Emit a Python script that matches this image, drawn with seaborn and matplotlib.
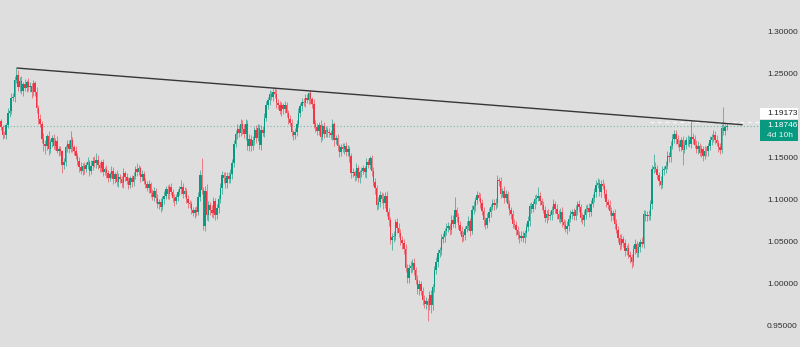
import matplotlib
matplotlib.use("Agg")
import matplotlib.pyplot as plt
from matplotlib.patches import Rectangle
import numpy as np
import seaborn as sns

# ---------------- data (weekly candles) ----------------
first_open = 1.193
closes = [
    1.186,1.177,1.176,1.188,1.203,1.205,1.220,1.222,1.242,1.248,
    1.234,1.241,1.229,1.237,1.232,1.240,1.233,1.235,1.228,1.238,
    1.227,1.208,1.196,1.190,1.172,1.166,1.163,1.175,1.160,1.168,
    1.173,1.164,1.169,1.158,1.160,1.157,1.141,1.144,1.162,1.166,
    1.160,1.170,1.162,1.158,1.152,1.146,1.139,1.134,1.140,1.136,
    1.141,1.144,1.134,1.140,1.146,1.143,1.147,1.141,1.137,1.144,
    1.133,1.136,1.131,1.126,1.130,1.134,1.124,1.130,1.121,1.127,
    1.124,1.119,1.131,1.127,1.122,1.117,1.125,1.121,1.128,1.136,
    1.133,1.137,1.127,1.130,1.122,1.118,1.114,1.118,1.108,1.103,
    1.110,1.102,1.094,1.097,1.091,1.100,1.104,1.112,1.106,1.115,
    1.109,1.102,1.098,1.103,1.109,1.112,1.115,1.107,1.110,1.101,
    1.096,1.094,1.088,1.084,1.087,1.085,1.103,1.129,1.111,1.069,
    1.110,1.081,1.093,1.087,1.084,1.098,1.082,1.090,1.101,1.113,
    1.129,1.126,1.119,1.128,1.124,1.130,1.143,1.166,1.178,1.184,
    1.179,1.190,1.184,1.178,1.190,1.163,1.172,1.163,1.170,1.182,
    1.173,1.185,1.165,1.183,1.179,1.197,1.212,1.218,1.225,1.222,
    1.228,1.225,1.215,1.212,1.205,1.212,1.207,1.212,1.203,1.195,
    1.191,1.180,1.176,1.180,1.190,1.203,1.211,1.216,1.215,1.221,
    1.218,1.226,1.219,1.213,1.190,1.186,1.181,1.188,1.174,1.187,
    1.178,1.183,1.180,1.179,1.176,1.189,1.170,1.173,1.163,1.156,
    1.162,1.160,1.164,1.156,1.160,1.151,1.131,1.132,1.128,1.137,
    1.125,1.132,1.134,1.137,1.132,1.144,1.141,1.149,1.134,1.121,
    1.113,1.093,1.097,1.105,1.101,1.096,1.104,1.085,1.075,1.052,
    1.055,1.057,1.073,1.066,1.060,1.052,1.048,1.041,1.019,1.007,
    1.018,1.021,1.025,1.016,1.004,0.994,0.999,0.991,0.980,0.976,
    0.979,0.975,0.986,0.974,0.996,1.016,1.026,1.036,1.040,1.053,
    1.055,1.062,1.066,1.068,1.064,1.076,1.071,1.087,1.079,1.070,
    1.063,1.055,1.058,1.065,1.069,1.074,1.063,1.088,1.092,1.099,
    1.105,1.102,1.096,1.086,1.075,1.070,1.078,1.085,1.091,1.096,
    1.093,1.096,1.123,1.122,1.107,1.110,1.102,1.106,1.094,1.087,
    1.083,1.071,1.070,1.064,1.058,1.054,1.057,1.054,1.060,1.067,
    1.074,1.092,1.089,1.094,1.100,1.102,1.104,1.098,1.093,1.088,
    1.078,1.083,1.080,1.082,1.087,1.094,1.089,1.083,1.077,1.085,
    1.073,1.070,1.065,1.068,1.077,1.083,1.085,1.080,1.087,1.094,
    1.091,1.078,1.075,1.082,1.089,1.090,1.085,1.095,1.102,1.109,
    1.117,1.120,1.109,1.118,1.116,1.107,1.097,1.093,1.086,1.080,
    1.084,1.071,1.064,1.054,1.046,1.053,1.048,1.039,1.042,1.034,
    1.031,1.026,1.041,1.047,1.036,1.043,1.049,1.047,1.083,1.080,
    1.081,1.080,1.095,1.136,1.139,1.136,1.129,1.122,1.117,1.135,
    1.136,1.140,1.152,1.150,1.164,1.172,1.178,1.172,1.166,1.162,
    1.170,1.159,1.165,1.170,1.171,1.166,1.174,1.172,1.165,1.160,
    1.163,1.155,1.160,1.152,1.158,1.157,1.163,1.170,1.174,1.177,
    1.171,1.167,1.162,1.159,1.185,1.181,1.186,1.18746,
]
# upper / lower wick lengths, in thousandths
upper_wick = [
    3,2,4,3,5,2,6,4,5,8,6,4,5,3,6,2,4,5,3,4,
    3,6,4,5,3,7,4,3,6,4,3,5,4,6,3,4,2,5,3,4,
    5,11,4,3,5,3,4,6,3,5,4,6,3,7,4,5,8,6,4,3,
    4,3,5,4,3,6,4,3,5,4,3,4,6,3,4,5,3,4,5,4,
    7,4,3,5,4,3,4,5,3,4,5,3,4,3,5,4,6,4,5,3,
    4,3,5,4,3,4,8,4,5,3,4,3,4,3,4,5,6,6,20,4,
    6,8,5,4,6,5,4,5,4,6,5,4,6,4,5,6,5,4,5,6,
    4,5,4,6,5,4,6,4,5,4,6,5,4,5,4,6,5,4,5,4,
    5,4,6,4,5,4,3,5,4,3,5,4,3,5,4,5,3,4,5,4,
    4,2,4,3,6,4,5,4,6,3,5,4,3,5,4,6,3,4,5,3,
    4,5,3,4,5,3,4,5,3,6,4,3,5,4,3,5,4,2,4,5,
    5,4,6,5,4,7,5,6,5,4,5,6,4,5,6,5,4,5,6,4,
    5,6,4,5,4,6,5,4,5,6,5,4,5,6,4,5,6,5,4,6,
    5,4,6,5,4,6,5,16,4,5,4,6,5,4,5,6,4,5,6,4,
    5,4,6,4,5,4,6,5,4,5,4,6,6,4,5,4,6,5,4,5,
    4,5,6,4,5,4,5,6,4,5,6,4,5,4,5,4,11,5,4,5,
    4,5,6,4,5,6,4,5,4,5,6,4,5,6,4,5,4,5,6,4,
    5,4,6,5,4,5,6,4,5,4,6,5,4,5,6,4,5,4,6,5,
    4,5,6,4,5,6,4,5,4,6,5,4,5,6,4,5,4,6,5,4,
    5,6,4,5,15,6,5,4,6,5,4,6,5,4,5,6,4,5,4,5,
    4,5,6,4,5,4,19,5,4,5,6,4,5,4,5,6,4,5,4,6,
    4,5,4,5,4,25,3,3,
]
lower_wick = [
    4,5,3,4,3,5,4,3,6,4,5,7,4,6,3,5,4,6,7,5,
    4,5,6,4,5,8,9,4,7,5,6,4,5,3,6,4,10,5,4,6,
    5,4,6,5,4,5,6,4,5,6,4,5,6,4,5,4,6,5,4,5,
    5,4,6,5,4,5,6,4,5,6,5,4,6,5,4,5,4,6,5,4,
    5,4,6,5,4,5,4,6,5,4,5,6,4,5,6,4,5,4,6,5,
    4,5,6,4,5,4,6,5,4,5,6,4,5,4,6,5,4,5,5,5,
    6,5,7,6,5,6,7,5,6,5,6,7,5,6,5,4,6,5,4,6,
    5,4,6,5,7,4,5,6,4,5,6,4,5,6,4,5,4,5,6,4,
    5,4,6,5,4,6,5,4,5,6,4,5,6,4,5,4,5,6,4,5,
    4,5,6,4,5,6,4,5,6,4,5,4,6,5,4,5,6,4,5,6,
    5,4,6,5,4,6,5,4,6,5,4,6,5,4,5,6,4,5,6,5,
    6,5,4,6,5,7,6,5,6,5,12,6,5,6,5,6,7,6,5,6,
    6,5,7,6,5,6,7,5,6,5,6,20,6,9,5,6,5,6,5,6,
    5,6,4,5,6,5,4,5,6,5,4,6,5,6,4,5,6,4,5,6,
    5,4,6,5,6,5,4,5,6,4,5,4,5,6,5,4,6,5,4,5,
    6,5,4,6,5,6,4,5,6,5,4,6,5,4,5,6,4,5,6,4,
    5,6,4,5,6,4,5,6,4,5,6,5,4,6,5,4,6,5,4,5,
    6,5,4,6,5,4,6,5,4,5,6,4,5,6,4,5,6,4,5,6,
    5,6,4,5,6,5,4,6,5,4,6,8,5,6,4,5,6,4,5,6,
    6,5,4,6,5,4,5,6,5,4,6,5,4,5,6,4,5,6,4,5,
    5,18,4,5,6,4,5,6,4,5,6,4,5,6,4,5,6,4,5,6,
    5,4,6,5,4,5,4,3,
]
trend_x = [9.4, 436.0]
trend_y = [1.2560, 1.1887]
last_price = 1.18746
high_marker = 1.19173
high_marker_from = 382
price_ticks = [0.95, 1.00, 1.05, 1.10, 1.15, 1.25, 1.30]
countdown = "4d 10h"

# ---------------- style ----------------
BG = "#dedede"
UP = "#089981"
DOWN = "#f23645"
sns.set_theme(style="white")
plt.rcParams["font.family"] = ["Liberation Sans", "DejaVu Sans"]
FS = 6.0

closes = np.array(closes)
opens = np.concatenate([[first_open], closes[:-1]])
n = len(closes)
idx = np.arange(n)
body_top = np.maximum(opens, closes)
body_bot = np.minimum(opens, closes)
highs = body_top + np.array(upper_wick[:n]) / 1000.0
lows = body_bot - np.array(lower_wick[:n]) / 1000.0
up = closes >= opens
colors = np.where(up, UP, DOWN)
heights = np.maximum(body_top - body_bot, 0.0008)

fig = plt.figure(figsize=(8, 3.47), dpi=100, facecolor=BG)
ax = fig.add_axes([0, 0, 760 / 800, 1])
ax.set_facecolor(BG)

ax.vlines(idx, lows, highs, colors=colors, linewidth=0.7, alpha=0.6, zorder=2)
ax.bar(idx, heights, bottom=body_bot, width=0.85, color=colors, linewidth=0, zorder=3)

# trend line
sns.lineplot(x=trend_x, y=trend_y, ax=ax, color="#363636", linewidth=1.0, zorder=4)

# current price dotted line
ax.axhline(last_price, color="#6fb8a8", linewidth=0.8, linestyle=(0, (1, 2)), zorder=1)
# high marker dashed line
ax.hlines(high_marker, high_marker_from, 447, colors="#f6f6f6", linewidth=0.9,
          linestyles=(0, (3, 3)), zorder=1)

ax.set_xlim(-0.59, 446.5)
ax.set_ylim(0.92470, 1.33682)
for s in ax.spines.values():
    s.set_visible(False)
ax.set_xticks([])
ax.yaxis.tick_right()
ax.set_yticks(price_ticks)
ax.set_yticklabels([f"{t:.5f}" for t in price_ticks])
ax.tick_params(axis="y", length=0, pad=5, labelsize=FS, labelcolor="#2e2e2e")
ax.grid(False)

# price labels on scale
W, H = 800.0, 347.0
fig.patches.append(Rectangle((760 / W, 1 - 119 / H), 38 / W, 11 / H,
                             transform=fig.transFigure, facecolor="white",
                             edgecolor="none", zorder=5))
fig.text(767 / W, 1 - 113.5 / H, f"{high_marker:.5f}", fontsize=FS,
         color="#222222", va="center", ha="left", zorder=6)
fig.patches.append(Rectangle((760 / W, 1 - 141 / H), 38 / W, 21 / H,
                             transform=fig.transFigure, facecolor=UP,
                             edgecolor="none", zorder=5))
fig.text(767 / W, 1 - 125.5 / H, f"{last_price:.5f}", fontsize=FS,
         color="white", va="center", ha="left", zorder=6)
fig.text(767 / W, 1 - 135.5 / H, countdown, fontsize=FS,
         color="#e6f4f1", va="center", ha="left", zorder=6)

fig.savefig("out.png", dpi=100, facecolor=BG)
